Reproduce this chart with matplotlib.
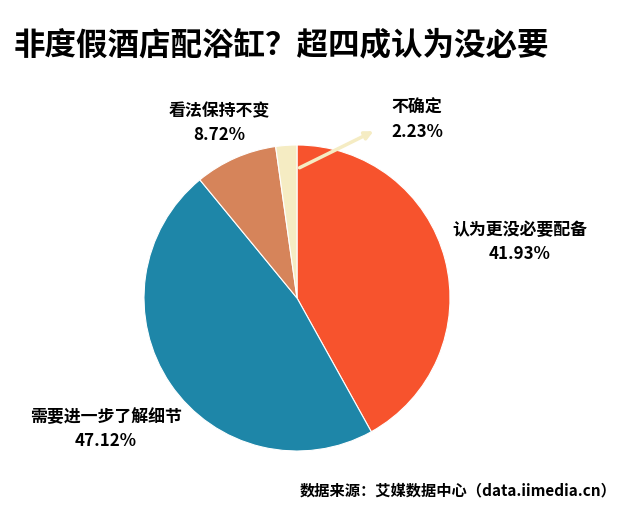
import matplotlib
matplotlib.use("Agg")
import matplotlib.pyplot as plt

plt.rcParams['font.family'] = ['Noto Sans CJK SC', 'DejaVu Sans']

labels = ["认为更没必要配备", "需要进一步了解细节", "看法保持不变", "不确定"]
values = [41.93, 47.12, 8.72, 2.23]
colors = ["#F7532D", "#1E86A8", "#D6845A", "#F5ECC3"]

W, H = 624, 507
fig = plt.figure(figsize=(W / 100, H / 100), dpi=100)
ax = fig.add_axes([0, 0, 1, 1])

cx, cy, r = 297, H - 298, 153
ax.pie(values, colors=colors, startangle=90, counterclock=False,
       center=(cx, cy), radius=r,
       wedgeprops=dict(edgecolor="white", linewidth=0.8))
ax.set_xlim(0, W)
ax.set_ylim(0, H)
ax.axis("off")

# label positions (pixel coords from top-left)
pos = [(520, 242), (106, 429), (219, 123), (417, 120)]
for lab, v, (x, y) in zip(labels, values, pos):
    ax.text(x, H - y, f"{lab}\n{v:.2f}%", ha="center", va="center",
            fontsize=12.2, fontweight="bold", linespacing=1.4)

ax.annotate("", xy=(376, H - 130), xytext=(297, H - 169),
            arrowprops=dict(arrowstyle="-|>", color="#F5ECC3", lw=2.5,
                            mutation_scale=12))

fig.text(14 / W, 1 - 45 / H, "非度假酒店配浴缸？超四成认为没必要",
         fontsize=22.7, fontweight="bold", ha="left", va="center")
fig.text(617 / W, 1 - 490 / H, "数据来源：艾媒数据中心（data.iimedia.cn）",
         fontsize=11, fontweight="bold", ha="right", va="center")

fig.savefig("out.png", dpi=100)
